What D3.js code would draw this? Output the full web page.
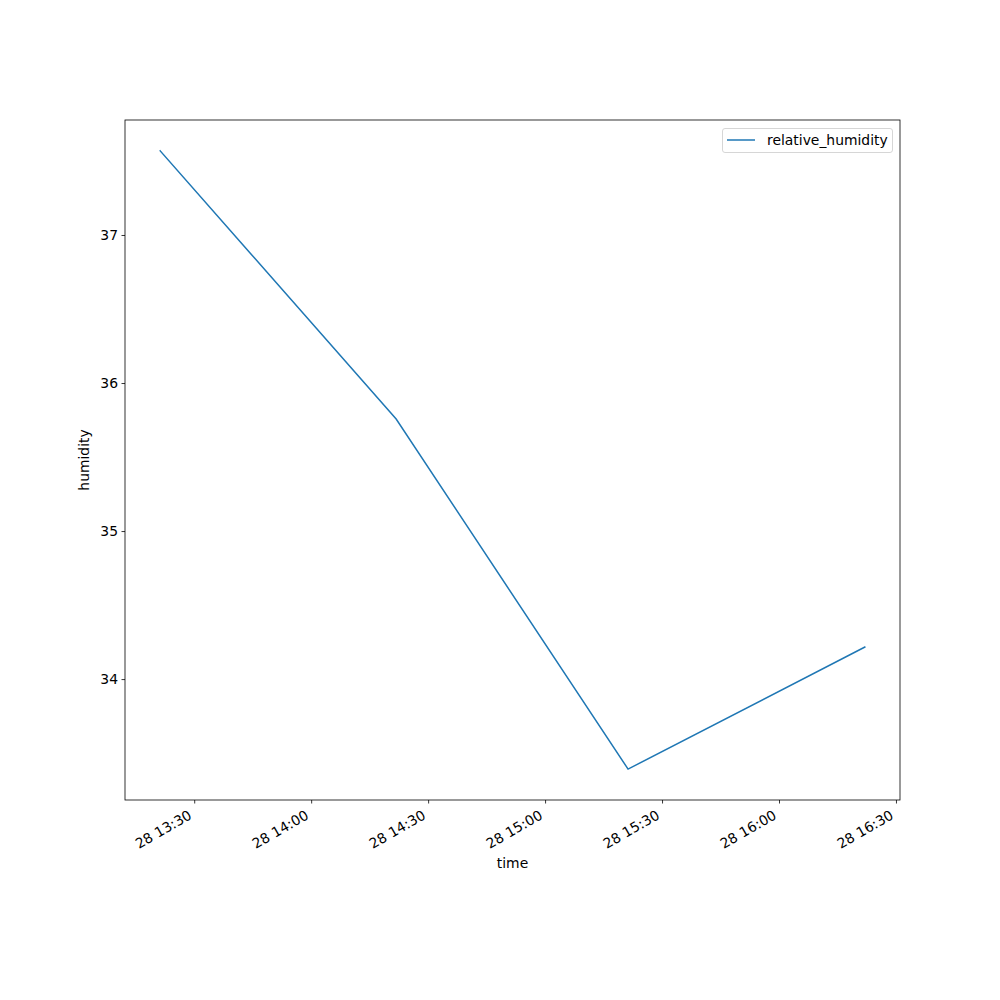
<!DOCTYPE html>
<html><head><meta charset="utf-8">
<script src="https://cdn.jsdelivr.net/npm/d3@7"></script>
<style>body{margin:0;background:#fff;} text{font-family:"DejaVu Sans",sans-serif;}</style>
</head><body><svg id="c" width="1000" height="1000"></svg>
<script>
const times = ["2023-06-28T13:21:17","2023-06-28T14:21:48","2023-06-28T15:21:17","2023-06-28T16:22:00"];
const humidity = [37.568, 35.757, 33.392, 34.216];
const seriesName = "relative_humidity";
const yTicks = [34, 35, 36, 37];
const xTickTimes = ["2023-06-28T13:30:00","2023-06-28T14:00:00","2023-06-28T14:30:00","2023-06-28T15:00:00","2023-06-28T15:30:00","2023-06-28T16:00:00","2023-06-28T16:30:00"];

const parse = d3.isoParse;
const data = times.map((t,i)=>({t:parse(t), v:humidity[i]}));
const L=125,R=900,T=120,B=800;
const svg=d3.select("#c");
const tExt=d3.extent(data,d=>d.t), span=tExt[1]-tExt[0];
const x=d3.scaleTime().domain([new Date(+tExt[0]-span*0.05), new Date(+tExt[1]+span*0.05)]).range([L,R]);
const vExt=d3.extent(humidity), vs=vExt[1]-vExt[0];
const y=d3.scaleLinear().domain([vExt[0]-vs*0.05, vExt[1]+vs*0.05]).range([B,T]);
const fs="13.9px";
// x axis
const xg=svg.append("g").attr("transform",`translate(0,${B})`)
  .call(d3.axisBottom(x).tickValues(xTickTimes.map(parse)).tickSize(3.5).tickPadding(3.5).tickFormat(d3.timeFormat("%d %H:%M")));
xg.select(".domain").remove();
xg.selectAll(".tick line").attr("stroke","#000").attr("stroke-width",0.8);
xg.selectAll(".tick text").attr("font-size",fs).attr("fill","#000")
  .attr("text-anchor","end").attr("dy",null).attr("y",null)
  .attr("transform","translate(-2,18) rotate(-30)");
// y axis
const yg=svg.append("g").attr("transform",`translate(${L},0)`)
  .call(d3.axisLeft(y).tickValues(yTicks).tickSize(3.5).tickPadding(3.5).tickFormat(d3.format("d")));
yg.select(".domain").remove();
yg.selectAll(".tick line").attr("stroke","#000").attr("stroke-width",0.8);
yg.selectAll(".tick text").attr("font-size",fs).attr("fill","#000").attr("dy","0.35em");
// frame
svg.append("rect").attr("x",L).attr("y",T).attr("width",R-L).attr("height",B-T)
  .attr("fill","none").attr("stroke","#000").attr("stroke-width",0.8);
// line
svg.append("path").datum(data).attr("fill","none").attr("stroke","#1f77b4").attr("stroke-width",1.5)
  .attr("stroke-linecap","square")
  .attr("d",d3.line().x(d=>x(d.t)).y(d=>y(d.v)));
// labels
svg.append("text").attr("x",(L+R)/2).attr("y",868).attr("text-anchor","middle").attr("font-size",fs).text("time");
svg.append("text").attr("transform",`translate(89,${(T+B)/2}) rotate(-90)`).attr("text-anchor","middle").attr("font-size",fs).text("humidity");
// legend
const lg=svg.append("g");
lg.append("rect").attr("x",722.5).attr("y",128.5).attr("width",170).attr("height",24).attr("rx",2.5)
  .attr("fill","#fff").attr("fill-opacity",0.8).attr("stroke","#ccc").attr("stroke-width",0.8);
lg.append("line").attr("x1",727).attr("x2",755).attr("y1",140).attr("y2",140).attr("stroke","#1f77b4").attr("stroke-width",1.5);
lg.append("text").attr("x",767).attr("y",145).attr("font-size",fs).text(seriesName);
</script></body></html>
